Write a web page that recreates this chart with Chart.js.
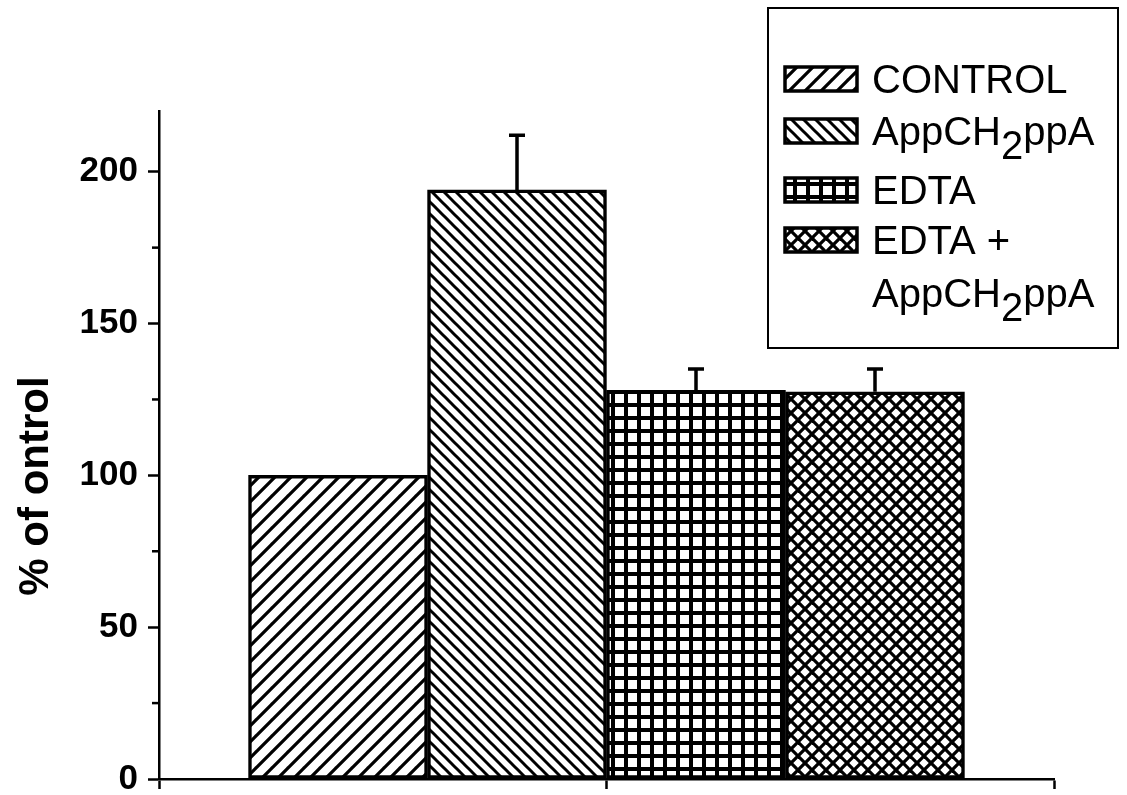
<!DOCTYPE html>
<html>
<head>
<meta charset="utf-8">
<script src="https://cdn.jsdelivr.net/npm/chart.js@4"></script>
<style>
html,body{margin:0;padding:0;background:#fff;}
#wrap{width:1127px;height:795px;}
</style>
</head>
<body>
<div id="wrap"><canvas id="c" width="1127" height="795"></canvas></div>
<script>
// ---- data ----
const categories = ["CONTROL", "AppCH2ppA", "EDTA", "EDTA + AppCH2ppA"];
const values = [100, 194, 128, 127.5];
const errors = [0, 18, 7, 7.5];
const yTicks = [0, 50, 100, 150, 200];
const yMinorTicks = [25, 75, 125, 175];
const xTicks = [0, 2.5, 5];
const yTitle = "% of ontrol";

const FONT = '"Liberation Sans", Arial, sans-serif';

// ---- patterns ----
function makePattern(kind) {
  const size = kind === 'fwd' ? 16 : (kind === 'back' ? 12 : (kind === 'grid' ? 13 : 14));
  const c = document.createElement('canvas');
  c.width = size; c.height = size;
  const g = c.getContext('2d');
  g.fillStyle = '#fff'; g.fillRect(0, 0, size, size);
  g.strokeStyle = '#000'; g.lineCap = 'square';
  function fwd(lw) {
    g.lineWidth = lw;
    for (let k = -1; k <= 1; k++) {
      g.beginPath(); g.moveTo(k * size, size); g.lineTo(k * size + size, 0); g.stroke();
    }
  }
  function back(lw) {
    g.lineWidth = lw;
    for (let k = -1; k <= 1; k++) {
      g.beginPath(); g.moveTo(k * size, 0); g.lineTo(k * size + size, size); g.stroke();
    }
  }
  if (kind === 'fwd') fwd(3.2);
  else if (kind === 'back') back(3.0);
  else if (kind === 'grid') {
    g.fillStyle = '#000';
    g.fillRect(0, 0, size, 4);
    g.fillRect(0, 0, 4, size);
  } else { fwd(3.2); back(3.2); }
  const ctx = document.getElementById('c').getContext('2d');
  return ctx.createPattern(c, 'repeat');
}
const patterns = [makePattern('fwd'), makePattern('back'), makePattern('grid'), makePattern('cross')];

// ---- plugins ----
const errorBars = {
  id: 'errorBars',
  afterDatasetsDraw(chart) {
    const ctx = chart.ctx, ys = chart.scales.y;
    ctx.save();
    ctx.strokeStyle = '#000'; ctx.lineWidth = 3.5;
    chart.data.datasets.forEach((ds, i) => {
      const e = errors[i];
      if (!e) return;
      const bar = chart.getDatasetMeta(i).data[0];
      const x = bar.x;
      const yTop = ys.getPixelForValue(values[i] + e);
      ctx.beginPath();
      ctx.moveTo(x, bar.y); ctx.lineTo(x, yTop);
      ctx.moveTo(x - 8, yTop); ctx.lineTo(x + 8, yTop);
      ctx.stroke();
    });
    ctx.restore();
  }
};

const axisExtras = {
  id: 'axisExtras',
  afterDraw(chart) {
    const ctx = chart.ctx, ys = chart.scales.y;
    ctx.save();
    // minor y ticks (shorter)
    ctx.strokeStyle = '#000'; ctx.lineWidth = 2.5;
    yMinorTicks.forEach(v => {
      const py = ys.getPixelForValue(v);
      ctx.beginPath(); ctx.moveTo(ys.right - 7, py); ctx.lineTo(ys.right, py); ctx.stroke();
    });
    // y axis title
    ctx.translate(36, 486);
    ctx.rotate(-Math.PI / 2);
    ctx.fillStyle = '#000';
    ctx.font = 'bold 42px ' + FONT;
    ctx.textAlign = 'center'; ctx.textBaseline = 'middle';
    ctx.fillText(yTitle, 0, 0);
    ctx.restore();
  }
};

const legendBox = {
  id: 'legendBox',
  afterDraw(chart) {
    const ctx = chart.ctx;
    ctx.save();
    ctx.fillStyle = '#fff';
    ctx.fillRect(768, 8, 350, 340);
    ctx.strokeStyle = '#000'; ctx.lineWidth = 2;
    ctx.strokeRect(768, 8, 350, 340);
    const entries = [
      {parts: [["CONTROL", 0]], cy: 79},
      {parts: [["AppCH", 0], ["2", 1], ["ppA", 0]], cy: 131},
      {parts: [["EDTA", 0]], cy: 190},
      {parts: [["EDTA +", 0]], cy: 240},
    ];
    const fs = 40;
    ctx.textBaseline = 'alphabetic'; ctx.textAlign = 'left';
    entries.forEach((en, i) => {
      ctx.fillStyle = patterns[i];
      ctx.fillRect(785, en.cy - 12, 72, 24);
      ctx.lineWidth = 3.5; ctx.strokeStyle = '#000';
      ctx.strokeRect(785, en.cy - 12, 72, 24);
      drawParts(ctx, en.parts, 872, en.cy + 14, fs);
    });
    drawParts(ctx, [["AppCH", 0], ["2", 1], ["ppA", 0]], 872, 293 + 14, fs);
    ctx.restore();
  }
};
function drawParts(ctx, parts, x, base, fs) {
  ctx.fillStyle = '#000';
  ctx.font = fs + 'px ' + FONT;
  parts.forEach(([t, sub]) => {
    ctx.fillText(t, x, base + (sub ? 14 : 0));
    x += ctx.measureText(t).width;
  });
}

// ---- chart ----
new Chart(document.getElementById('c'), {
  type: 'bar',
  data: {
    datasets: categories.map((name, i) => ({
      label: name,
      data: [{x: i + 1, y: values[i]}],
      backgroundColor: patterns[i],
      borderColor: '#000',
      borderWidth: 3.5,
      borderSkipped: false,
      grouped: false,
      categoryPercentage: 1,
      barPercentage: 1
    }))
  },
  options: {
    responsive: false,
    animation: false,
    layout: {padding: {top: 111, right: 73, left: 0, bottom: 0}},
    plugins: {legend: {display: false}, tooltip: {enabled: false}},
    scales: {
      x: {
        type: 'linear', min: 0, max: 5, offset: false,
        afterBuildTicks(s) { s.ticks = xTicks.map(v => ({value: v})); },
        ticks: {display: false},
        grid: {offset: false, drawOnChartArea: false, drawTicks: true, tickLength: 10, tickColor: '#000', tickWidth: 2.5},
        border: {display: true, color: '#000', width: 2.5},
        afterFit(s) { s.height = 16; s.paddingLeft = 0; s.paddingRight = 0; }
      },
      y: {
        min: 0, max: 220,
        afterBuildTicks(s) { s.ticks = yTicks.map(v => ({value: v})); },
        ticks: {
          color: '#000',
          padding: 10,
          font: {family: FONT, size: 35, weight: 'bold'},
          callback: v => String(v)
        },
        grid: {drawOnChartArea: false, drawTicks: true, tickLength: 11, tickColor: '#000', tickWidth: 2.5},
        border: {display: true, color: '#000', width: 2.5},
        title: {display: false},
        afterFit(s) { s.width = 159; s.paddingTop = 0; s.paddingBottom = 0; }
      }
    }
  },
  plugins: [errorBars, axisExtras, legendBox]
});
</script>
</body>
</html>
